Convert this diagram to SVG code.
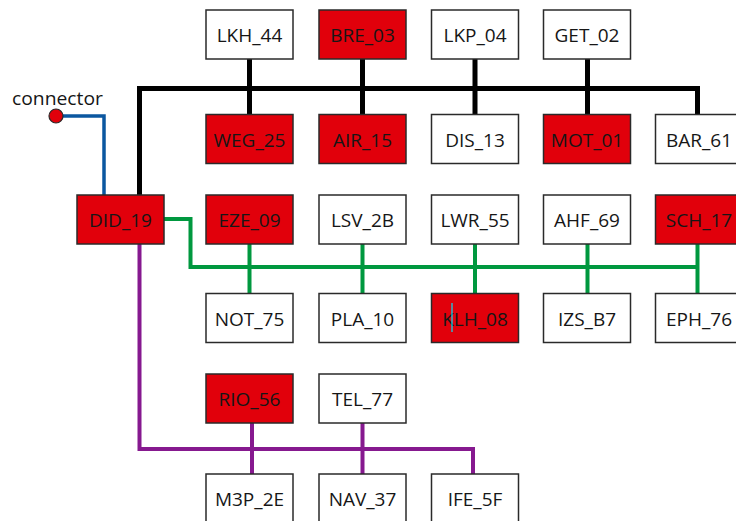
<svg xmlns="http://www.w3.org/2000/svg" width="736" height="521" viewBox="0 0 736 521">
<style>
.n rect{stroke:#2a2a2a;stroke-width:1.5;fill:#ffffff}
.n.r rect{fill:#e1000b}
.n text{font-family:"Open Sans","Noto Sans",sans-serif;font-size:19px;fill:#161616;text-anchor:middle}
.c{fill:none;stroke-linejoin:miter;stroke-linecap:butt}
.k{stroke:#000;stroke-width:5}
.g{stroke:#00983f;stroke-width:4}
.p{stroke:#86198f;stroke-width:4}
.b{stroke:#0b57a0;stroke-width:3.5}
.lbl{font-family:"Open Sans","Noto Sans",sans-serif;font-size:18px;fill:#161616}
</style>
<rect width="736" height="521" fill="#fff"/>
<g id="connectors">
<path class="c b" d="M56,116 H104 V195"/>
<path class="c k" d="M139.5,195 V88.5 H697.5 V114"/>
<path class="c k" d="M249.5,59 V114 M362.5,59 V114 M475,59 V114 M587.5,59 V114"/>
<path class="c g" d="M164,219 H190.5 V267 H697.5"/>
<path class="c g" d="M249.5,244 V293 M362.5,244 V293 M475,244 V293 M587.5,244 V293 M697.5,244 V293"/>
<path class="c p" d="M139.5,244 V449 H473 V474"/>
<path class="c p" d="M252,423 V474 M362.5,423 V474"/>
</g>
<g id="connector">
<circle cx="56" cy="116" r="7" fill="#e1000b" stroke="#2a2a2a" stroke-width="1.2"/>
<text class="lbl" x="12" y="105" textLength="91" lengthAdjust="spacingAndGlyphs">connector</text>
</g>
<g id="LKH_44" class="n"><rect x="206" y="10" width="87" height="49"/><text x="249.5" y="42">LKH_44</text></g>
<g id="BRE_03" class="n r"><rect x="319" y="10" width="87" height="49"/><text x="362.5" y="42">BRE_03</text></g>
<g id="LKP_04" class="n"><rect x="431.5" y="10" width="87" height="49"/><text x="475" y="42">LKP_04</text></g>
<g id="GET_02" class="n"><rect x="543.5" y="10" width="87" height="49"/><text x="587" y="42">GET_02</text></g>
<g id="WEG_25" class="n r"><rect x="206" y="114.5" width="87" height="49"/><text x="249.5" y="146.5">WEG_25</text></g>
<g id="AIR_15" class="n r"><rect x="319" y="114.5" width="87" height="49"/><text x="362.5" y="146.5">AIR_15</text></g>
<g id="DIS_13" class="n"><rect x="431.5" y="114.5" width="87" height="49"/><text x="475" y="146.5">DIS_13</text></g>
<g id="MOT_01" class="n r"><rect x="543.5" y="114.5" width="87" height="49"/><text x="587" y="146.5">MOT_01</text></g>
<g id="BAR_61" class="n"><rect x="655.5" y="114.5" width="87" height="49"/><text x="699" y="146.5">BAR_61</text></g>
<g id="DID_19" class="n r"><rect x="77" y="195" width="87" height="49"/><text x="120.5" y="227">DID_19</text></g>
<g id="EZE_09" class="n r"><rect x="206" y="195" width="87" height="49"/><text x="249.5" y="227">EZE_09</text></g>
<g id="LSV_2B" class="n"><rect x="319" y="195" width="87" height="49"/><text x="362.5" y="227">LSV_2B</text></g>
<g id="LWR_55" class="n"><rect x="431.5" y="195" width="87" height="49"/><text x="475" y="227">LWR_55</text></g>
<g id="AHF_69" class="n"><rect x="543.5" y="195" width="87" height="49"/><text x="587" y="227">AHF_69</text></g>
<g id="SCH_17" class="n r"><rect x="655.5" y="195" width="87" height="49"/><text x="699" y="227">SCH_17</text></g>
<g id="NOT_75" class="n"><rect x="206" y="293.5" width="87" height="49"/><text x="249.5" y="325.5">NOT_75</text></g>
<g id="PLA_10" class="n"><rect x="319" y="293.5" width="87" height="49"/><text x="362.5" y="325.5">PLA_10</text></g>
<g id="KLH_08" class="n r"><rect x="431.5" y="293.5" width="87" height="49"/><text x="475" y="325.5">KLH_08</text><line x1="452" y1="303" x2="452" y2="332" stroke="#00e5ff" stroke-width="1.2"/></g>
<g id="IZS_B7" class="n"><rect x="543.5" y="293.5" width="87" height="49"/><text x="587" y="325.5">IZS_B7</text></g>
<g id="EPH_76" class="n"><rect x="655.5" y="293.5" width="87" height="49"/><text x="699" y="325.5">EPH_76</text></g>
<g id="RIO_56" class="n r"><rect x="206" y="374" width="87" height="49"/><text x="249.5" y="406">RIO_56</text></g>
<g id="TEL_77" class="n"><rect x="319" y="374" width="87" height="49"/><text x="362.5" y="406">TEL_77</text></g>
<g id="M3P_2E" class="n"><rect x="206" y="474" width="87" height="49"/><text x="249.5" y="506">M3P_2E</text></g>
<g id="NAV_37" class="n"><rect x="319" y="474" width="87" height="49"/><text x="362.5" y="506">NAV_37</text></g>
<g id="IFE_5F" class="n"><rect x="431.5" y="474" width="87" height="49"/><text x="475" y="506">IFE_5F</text></g>
</svg>
